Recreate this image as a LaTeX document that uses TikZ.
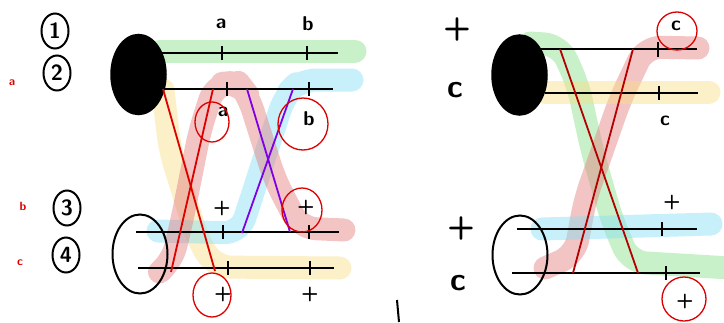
\documentclass[tikz,border=0pt]{standalone}
\usetikzlibrary{shapes.geometric}
\definecolor{hgreen}{RGB}{135,224,135}
\definecolor{hpink}{RGB}{226,124,124}
\definecolor{hblue}{RGB}{133,222,244}
\definecolor{hyellow}{RGB}{248,222,133}
\definecolor{cred}{RGB}{220,0,0}
\definecolor{dred}{RGB}{180,0,0}
\definecolor{cpurple}{RGB}{128,0,230}
\begin{document}
\begin{tikzpicture}[x=1pt,y=-1pt,
  chrom/.style={line width=2.2pt},
  tk/.style={line width=2.6pt},
  hl/.style={line width=23pt, line cap=round, line join=round, rounded corners=16pt, opacity=0.45},
  xover/.style={line width=1.8pt},
  lab/.style={font=\sffamily\bfseries\fontsize{20}{20}\selectfont, inner sep=0pt},
  biglab/.style={font=\sffamily\bfseries\fontsize{32}{32}\selectfont, inner sep=0pt},
  num/.style={ellipse, draw, line width=2pt, minimum width=27pt, minimum height=35pt, inner sep=0pt, font=\sffamily\bfseries\fontsize{22}{22}\selectfont},
  tiny/.style={text=cred, font=\sffamily\bfseries\fontsize{12}{12}\selectfont, inner sep=0pt},
  rcirc/.style={ellipse, draw=cred, line width=1.3pt, inner sep=0pt},
  solid/.style={ellipse, draw, fill=black, line width=1.5pt, minimum width=55pt, minimum height=80pt, inner sep=0pt},
  open/.style={ellipse, draw, line width=2pt, minimum width=55pt, minimum height=79pt, inner sep=0pt}
]
\useasboundingbox (0,0) rectangle (724,322);

% ---------------- highlights (left) ----------------
\draw[hl, draw=hgreen] (160,51) -- (355,51);
\draw[hl, draw=hyellow] (163,90) -- (170,150) -- (198,240) -- (215,267) -- (340,268);
\draw[hl, draw=hblue] (158,231) -- (240,233) -- (262,165) -- (285,95) -- (300,80) -- (352,80);
\draw[hl, draw=hpink] (344,230) -- (300,228) -- (275,180) -- (248,95) -- (238,82) -- (215,84) -- (200,130) -- (182,220) -- (172,262) -- (162,270);

% ---------------- highlights (right) ----------------
\draw[hl, draw=hgreen] (530,43) -- (560,45) -- (578,85) -- (592,150) -- (612,220) -- (630,262) -- (730,268);
\draw[hl, draw=hpink] (698,48) -- (645,47) -- (620,100) -- (585,200) -- (575,255) -- (545,268);
\draw[hl, draw=hyellow] (545,92) -- (709,92);
\draw[hl, draw=hblue] (542,229) -- (711,224);

% ---------------- left panel chromosomes ----------------
\coordinate (L1a) at (158,53);  \coordinate (L1b) at (338,53);
\coordinate (L2a) at (163,89);  \coordinate (L2b) at (333,89);
\coordinate (L3a) at (136,232); \coordinate (L3b) at (339,232);
\coordinate (L4a) at (138,268); \coordinate (L4b) at (334,268);
\draw[chrom] (L1a) -- (L1b);
\draw[chrom] (L2a) -- (L2b);
\draw[chrom] (L3a) -- (L3b);
\draw[chrom] (L4a) -- (L4b);
% ticks
\draw[tk] (222,46) -- (222,60);  \draw[tk] (307,46) -- (307,60);
\draw[tk] (227,82) -- (227,96);  \draw[tk] (309,82) -- (309,96);
\draw[tk] (223,225) -- (223,239); \draw[tk] (309,225) -- (309,239);
\draw[tk] (228,261) -- (228,275); \draw[tk] (310,261) -- (310,275);

\node[solid] (E1) at (138.5,74.5) {};
\node[open] (E2) at (140,254) {};

% crossovers (left)
\coordinate (r1a) at (163,89);  \coordinate (r1b) at (215,271);
\coordinate (r2a) at (213,89);  \coordinate (r2b) at (171,272);
\coordinate (p1a) at (247,89);  \coordinate (p1b) at (290,232);
\coordinate (p2a) at (293,89);  \coordinate (p2b) at (242,233);
\draw[xover, draw=cred] (r1a) -- (r1b);
\draw[xover, draw=cred] (r2a) -- (r2b);
\draw[xover, draw=cpurple] (p1a) -- (p1b);
\draw[xover, draw=cpurple] (p2a) -- (p2b);

% allele labels (left)
\node[lab] (la1) at (221,24) {a};
\node[lab] (lb1) at (308,24) {b};
\node[lab] (la2) at (223,112) {a};
\node[lab] (lb2) at (309,119) {b};
\node[lab] (lp1) at (222,208) {+};
\node[lab] (lp2) at (306,207) {+};
\node[lab] (lp3) at (223,294) {+};
\node[lab] (lp4) at (310,294) {+};
% red circles (left)
\node[rcirc, minimum width=34pt, minimum height=40pt] (ca) at (212,122) {};
\node[rcirc, minimum width=50pt, minimum height=52pt] (cb) at (303,124) {};
\node[rcirc, minimum width=40pt, minimum height=44pt] (cp1) at (302,210) {};
\node[rcirc, minimum width=38pt, minimum height=44pt] (cp2) at (212,295) {};

% circled numbers and red marks
\node[num] (n1) at (55,31) {1};
\node[num] (n2) at (57,73) {2};
\node[num] (n3) at (67,208) {3};
\node[num] (n4) at (66,255) {4};
\node[tiny] (ra) at (12,83) {a};
\node[tiny] (rb) at (23,206) {b};
\node[tiny] (rc) at (20,263) {c};

% ---------------- right panel chromosomes ----------------
\coordinate (R1a) at (540,49);  \coordinate (R1b) at (697,49);
\coordinate (R2a) at (545,93);  \coordinate (R2b) at (698,93);
\coordinate (R3a) at (517,229); \coordinate (R3b) at (697,229);
\coordinate (R4a) at (512,273); \coordinate (R4b) at (700,273);
\draw[chrom] (R1a) -- (R1b);
\draw[chrom] (R2a) -- (R2b);
\draw[chrom] (R3a) -- (R3b);
\draw[chrom] (R4a) -- (R4b);
\draw[tk] (658,42) -- (658,57);
\draw[tk] (659,86) -- (659,100);
\draw[tk] (662,222) -- (662,236);
\draw[tk] (666,266) -- (666,280);

\node[solid] (E3) at (519.5,75) {};
\node[open] (E4) at (520,255) {};

\coordinate (s1a) at (560,49);  \coordinate (s1b) at (638,273);
\coordinate (s2a) at (633,49);  \coordinate (s2b) at (573,273);
\draw[xover, draw=dred] (s1a) -- (s1b);
\draw[xover, draw=dred] (s2a) -- (s2b);

\node[lab] (rc1) at (676,26) {c};
\node[lab] (rc2) at (665,121) {c};
\node[lab] (rp1) at (672,202) {+};
\node[lab] (rp2) at (685,301) {+};
\node[rcirc, minimum width=40pt, minimum height=38pt] (crc) at (677,31) {};
\node[rcirc, minimum width=44pt, minimum height=44pt] (crp) at (684,299) {};

\node[biglab] (bp1) at (457,29) {+};
\node[biglab] (bc1) at (455,90) {c};
\node[biglab] (bp2) at (461,228) {+};
\node[biglab] (bc2) at (458,283) {c};

% stray mark
\coordinate (m1) at (397,300); \coordinate (m2) at (399,322);
\draw[line width=2pt] (m1) -- (m2);
\end{tikzpicture}
\end{document}
